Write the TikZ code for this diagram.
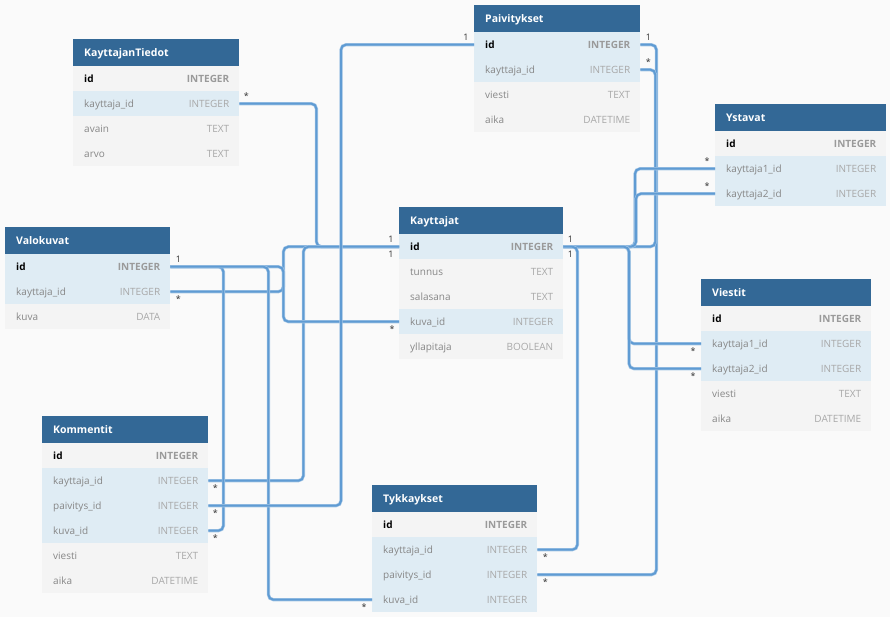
\documentclass[tikz,border=0pt]{standalone}
\usepackage{fontspec}
\setmainfont{Open Sans}
\definecolor{bg}{HTML}{FAFAFA}
\definecolor{hdr}{HTML}{336896}
\definecolor{rowN}{HTML}{F4F4F4}
\definecolor{rowH}{HTML}{DFECF4}
\definecolor{fieldc}{HTML}{878787}
\definecolor{typec}{HTML}{A8A8A8}
\definecolor{keytype}{HTML}{9A9A9A}
\definecolor{linec}{HTML}{5F9BD3}
\definecolor{lineedge}{HTML}{A6C7E6}
\definecolor{labc}{HTML}{333333}
\tikzset{
  hdrbox/.style={fill=hdr, draw=none, minimum height=27, inner sep=0, anchor=north west},
  rowbox/.style={draw=none, minimum height=25, inner sep=0, anchor=north west},
  rb-pk/.style={fill=rowN}, rb-pkh/.style={fill=rowH},
  rb-fk/.style={fill=rowH}, rb-nr/.style={fill=rowN},
  txt/.style={inner sep=0, text height=7.2, text depth=0, font=\fontsize{10}{12}\selectfont},
  fx-pk/.style={txt, font=\fontsize{10}{12}\selectfont\bfseries, text=black},
  fx-pkh/.style={fx-pk},
  fx-fk/.style={txt, text=fieldc}, fx-nr/.style={fx-fk},
  tx-pk/.style={txt, font=\fontsize{10}{12}\selectfont\bfseries, text=keytype},
  tx-pkh/.style={tx-pk},
  tx-fk/.style={txt, text=typec}, tx-nr/.style={tx-fk},
  ttl/.style={inner sep=0, text height=7.4, text depth=0, text=white, font=\fontsize{10.5}{12}\selectfont\bfseries},
  conn/.style={draw=linec, line width=2.0, rounded corners=5,
    preaction={draw=lineedge, line width=3.2}},
  lab/.style={font=\fontsize{9}{10}\selectfont, text=labc, anchor=base, inner sep=0}
}
\newcommand\erTable[6]{%
  \node[hdrbox, minimum width=#4] (#1) at (#2,#3) {};
  \node[ttl, anchor=west] (#1-t) at ([xshift=11]#1.west) {#5};
  \foreach \f/\t/\k [count=\i] in {#6} {
    \node[rowbox, rb-\k, minimum width=#4] (#1-\i) at (#2, #3+2+25*\i) {};
    \node[fx-\k, anchor=west] (#1-f\i) at ([xshift=11]#1-\i.west) {\f};
    \node[tx-\k, anchor=east] (#1-y\i) at ([xshift=-10]#1-\i.east) {\t};
  }
}
\begin{document}
\begin{tikzpicture}[x=1pt,y=-1pt]
\fill[bg] (0,0) rectangle (890,617);
\useasboundingbox (0,0) rectangle (890,617);

\erTable{kt}{73}{39}{166}{KayttajanTiedot}{id/INTEGER/pk, kayttaja\_id/INTEGER/fk, avain/TEXT/nr, arvo/TEXT/nr}
\erTable{pv}{474}{5}{166}{Paivitykset}{id/INTEGER/pkh, kayttaja\_id/INTEGER/fk, viesti/TEXT/nr, aika/DATETIME/nr}
\erTable{ys}{715}{104}{171}{Ystavat}{id/INTEGER/pk, kayttaja1\_id/INTEGER/fk, kayttaja2\_id/INTEGER/fk}
\erTable{ka}{399}{207}{164}{Kayttajat}{id/INTEGER/pkh, tunnus/TEXT/nr, salasana/TEXT/nr, kuva\_id/INTEGER/fk, yllapitaja/BOOLEAN/nr}
\erTable{vk}{5}{227}{165}{Valokuvat}{id/INTEGER/pkh, kayttaja\_id/INTEGER/fk, kuva/DATA/nr}
\erTable{vi}{701}{279}{170}{Viestit}{id/INTEGER/pk, kayttaja1\_id/INTEGER/fk, kayttaja2\_id/INTEGER/fk, viesti/TEXT/nr, aika/DATETIME/nr}
\erTable{ko}{42}{416}{166}{Kommentit}{id/INTEGER/pk, kayttaja\_id/INTEGER/fk, paivitys\_id/INTEGER/fk, kuva\_id/INTEGER/fk, viesti/TEXT/nr, aika/DATETIME/nr}
\erTable{ty}{372}{485}{165}{Tykkaykset}{id/INTEGER/pk, kayttaja\_id/INTEGER/fk, paivitys\_id/INTEGER/fk, kuva\_id/INTEGER/fk}

% connectors
\draw[conn] (kt-2.east) -- ++(77,0) |- (ka-1.west);
\draw[conn] (vk-2.east) -- ++(113,0) |- (ka-1.west);
\draw[conn] (ko-2.east) -- ++(95,0) |- (ka-1.west);
\draw[conn] (vk-1.east) -- ++(113,0) |- (ka-4.west);
\draw[conn] (vk-1.east) -- ++(53,0) |- (ko-4.east);
\draw[conn] (vk-1.east) -- ++(98,0) |- (ty-4.west);
\draw[conn] (pv-1.west) -- ++(-133,0) |- (ko-3.east);
\draw[conn] (pv-1.east) -- ++(16,0) |- (ty-3.east);
\draw[conn] (pv-2.east) -- ++(15,0) |- (ka-1.east);
\draw[conn] (ys-2.west) -- ++(-80,0) |- (ka-1.east);
\draw[conn] (ys-3.west) -- ++(-79,0) |- (ka-1.east);
\draw[conn] (vi-2.west) -- ++(-72,0) |- (ka-1.east);
\draw[conn] (vi-3.west) -- ++(-72,0) |- (ka-1.east);
\draw[conn] (ty-2.east) -- ++(40,0) |- (ka-1.east);

% cardinality labels
\node[lab] (l1) at ([shift={(7,-4)}]kt-2.east) {*};
\node[lab] (l2) at ([shift={(8,-4)}]vk-1.east) {1};
\node[lab] (l3) at ([shift={(8,11)}]vk-2.east) {*};
\node[lab] (l4) at ([shift={(-8,-4)}]ka-1.west) {1};
\node[lab] (l5) at ([shift={(-8,11)}]ka-1.west) {1};
\node[lab] (l6) at ([shift={(7,-4)}]ka-1.east) {1};
\node[lab] (l7) at ([shift={(7,11)}]ka-1.east) {1};
\node[lab] (l8) at ([shift={(-7,11)}]ka-4.west) {*};
\node[lab] (l9) at ([shift={(-8,-4)}]pv-1.west) {1};
\node[lab] (l10) at ([shift={(8,-4)}]pv-1.east) {1};
\node[lab] (l11) at ([shift={(8,-4)}]pv-2.east) {*};
\node[lab] (l12) at ([shift={(-8,-4)}]ys-2.west) {*};
\node[lab] (l13) at ([shift={(-8,-4)}]ys-3.west) {*};
\node[lab] (l14) at ([shift={(-8,11)}]vi-2.west) {*};
\node[lab] (l15) at ([shift={(-8,11)}]vi-3.west) {*};
\node[lab] (l16) at ([shift={(7,11)}]ko-2.east) {*};
\node[lab] (l17) at ([shift={(7,11)}]ko-3.east) {*};
\node[lab] (l18) at ([shift={(7,11)}]ko-4.east) {*};
\node[lab] (l19) at ([shift={(8,11)}]ty-2.east) {*};
\node[lab] (l20) at ([shift={(8,11)}]ty-3.east) {*};
\node[lab] (l21) at ([shift={(-8,11)}]ty-4.west) {*};
\end{tikzpicture}
\end{document}
